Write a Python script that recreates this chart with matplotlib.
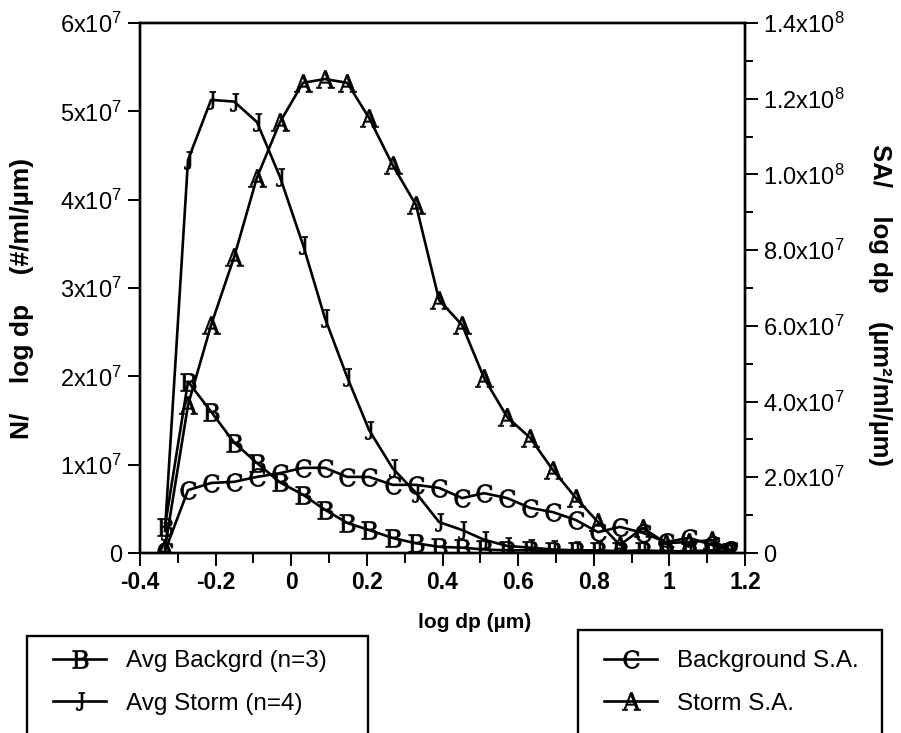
import numpy as np
import matplotlib
matplotlib.use('Agg')
import matplotlib.pyplot as plt
from matplotlib.patches import Rectangle

plt.rcParams['font.family'] = ['Liberation Sans', 'DejaVu Sans']
plt.rcParams['mathtext.fontset'] = 'dejavuserif'

# Size channels (log dp, um)
log_dp = [-0.334, -0.273, -0.212, -0.151, -0.091, -0.030, 0.031, 0.089, 0.148,
          0.206, 0.268, 0.330, 0.391, 0.452, 0.510, 0.571, 0.632, 0.692, 0.753,
          0.811, 0.869, 0.930, 0.991, 1.052, 1.113, 1.160]

# Number distributions, left axis (#/ml/um)
avg_backgrd = [0.30e7, 1.94e7, 1.60e7, 1.25e7, 1.02e7, 0.80e7, 0.66e7, 0.49e7, 0.34e7,
               0.26e7, 0.17e7, 0.11e7, 0.07e7, 0.06e7, 0.04e7, 0.03e7, 0.03e7, 0.02e7,
               0.02e7, 0.02e7, 0.02e7, 0.02e7, 0.01e7, 0.01e7, 0.01e7, 0.01e7]
avg_storm = [0.25e7, 4.45e7, 5.13e7, 5.11e7, 4.88e7, 4.26e7, 3.49e7, 2.66e7, 1.99e7,
             1.39e7, 0.96e7, 0.68e7, 0.35e7, 0.26e7, 0.15e7, 0.08e7, 0.06e7, 0.04e7,
             0.03e7, 0.03e7, 0.02e7, 0.03e7, 0.02e7, 0.02e7, 0.03e7, 0.01e7]

# Surface area distributions, right axis (um^2/ml/um)
background_sa = [0.05e7, 1.66e7, 1.85e7, 1.88e7, 2.01e7, 2.11e7, 2.25e7, 2.25e7, 2.01e7,
                 2.01e7, 1.80e7, 1.80e7, 1.72e7, 1.45e7, 1.58e7, 1.45e7, 1.19e7, 1.08e7,
                 0.87e7, 0.55e7, 0.69e7, 0.53e7, 0.29e7, 0.40e7, 0.21e7, 0.08e7]
storm_sa = [0.013e8, 0.391e8, 0.602e8, 0.782e8, 0.991e8, 1.138e8, 1.242e8, 1.252e8, 1.242e8,
            1.149e8, 1.025e8, 0.919e8, 0.668e8, 0.602e8, 0.462e8, 0.359e8, 0.304e8, 0.219e8,
            0.145e8, 0.082e8, 0.021e8, 0.066e8, 0.026e8, 0.029e8, 0.034e8, 0.008e8]

x_ticks = [-0.4, -0.2, 0, 0.2, 0.4, 0.6, 0.8, 1, 1.2]
x_labels = ['-0.4', '-0.2', '0', '0.2', '0.4', '0.6', '0.8', '1', '1.2']
left_ticks = [0, 1e7, 2e7, 3e7, 4e7, 5e7, 6e7]
left_labels = ['0'] + [r'$\mathregular{%dx10^7}$' % i for i in range(1, 7)]
right_ticks = [0, 2e7, 4e7, 6e7, 8e7, 1e8, 1.2e8, 1.4e8]
right_labels = ['0', r'$\mathregular{2.0x10^7}$', r'$\mathregular{4.0x10^7}$',
                r'$\mathregular{6.0x10^7}$', r'$\mathregular{8.0x10^7}$',
                r'$\mathregular{1.0x10^8}$', r'$\mathregular{1.2x10^8}$',
                r'$\mathregular{1.4x10^8}$']

fig = plt.figure(figsize=(9.01, 7.33), dpi=100)
ax = fig.add_axes([140/901, 1-553/733, 605/901, 530/733])
ax2 = ax.twinx()

lw = 1.9
ms = 13
lB, = ax.plot(log_dp, avg_backgrd, color='black', lw=lw, marker=r'$\mathrm{B}$', ms=ms, mew=0.5)
lJ, = ax.plot(log_dp, avg_storm, color='black', lw=lw, marker=r'$\mathrm{J}$', ms=ms, mew=0.5)
lC, = ax2.plot(log_dp, background_sa, color='black', lw=lw, marker=r'$\mathrm{C}$', ms=ms, mew=0.5)
lA, = ax2.plot(log_dp, storm_sa, color='black', lw=lw, marker=r'$\mathrm{A}$', ms=ms, mew=0.5)

ax.set_xlim(-0.4, 1.2)
ax.set_ylim(0, 6e7)
ax2.set_ylim(0, 1.4e8)

ax.set_xticks(x_ticks)
ax.set_xticklabels(x_labels, fontsize=16.5, fontweight='bold')
ax.set_xticks(np.arange(-0.3, 1.2, 0.2), minor=True)
ax.set_yticks(left_ticks)
ax.set_yticklabels(left_labels, fontsize=17)
ax2.set_yticks(right_ticks)
ax2.set_yticklabels(right_labels, fontsize=17)
ax2.set_yticks(np.arange(1e7, 1.4e8, 2e7), minor=True)

for a in (ax, ax2):
    for s in a.spines.values():
        s.set_linewidth(1.7)
ax.tick_params(axis='both', which='major', length=9, width=1.4, direction='out', pad=4)
ax.tick_params(axis='x', which='minor', length=7, width=1.4, direction='out')
ax2.tick_params(axis='y', which='major', length=9, width=1.4, direction='out', pad=4)
ax2.tick_params(axis='y', which='minor', length=6, width=1.4, direction='out')

fig.text(22/901, 1-298/733, 'N/    log dp    (#/ml/µm)', rotation=90, ha='center', va='center',
         fontsize=19, fontweight='bold')
fig.text(880/901, 1-305/733, 'SA/    log dp    (µm²/ml/µm)', rotation=270, ha='center', va='center',
         fontsize=18.5, fontweight='bold')
fig.text(475/901, 1-622/733, 'log dp (µm)', ha='center', va='center',
         fontsize=15, fontweight='bold')

# legend boxes run off the bottom of the page
fig.add_artist(Rectangle((27/901, -0.05), (368-27)/901, 0.05 + 1-636/733,
                         transform=fig.transFigure, fill=False, lw=1.7, color='black'))
fig.add_artist(Rectangle((578/901, -0.05), (882-578)/901, 0.05 + 1-630/733,
                         transform=fig.transFigure, fill=False, lw=1.7, color='black'))

leg_kw = dict(frameon=False, fontsize=17.5, handlelength=2.2, handletextpad=0.8,
              labelspacing=0.85, borderpad=0, borderaxespad=0, loc='upper left')
fig.legend([lB, lJ], ['Avg Backgrd (n=3)', 'Avg Storm (n=4)'],
           bbox_to_anchor=(53/901, 1-650/733), **leg_kw)
fig.legend([lC, lA], ['Background S.A.', 'Storm S.A.'],
           bbox_to_anchor=(604/901, 1-650/733), **leg_kw)

fig.savefig('out.png', dpi=100)
